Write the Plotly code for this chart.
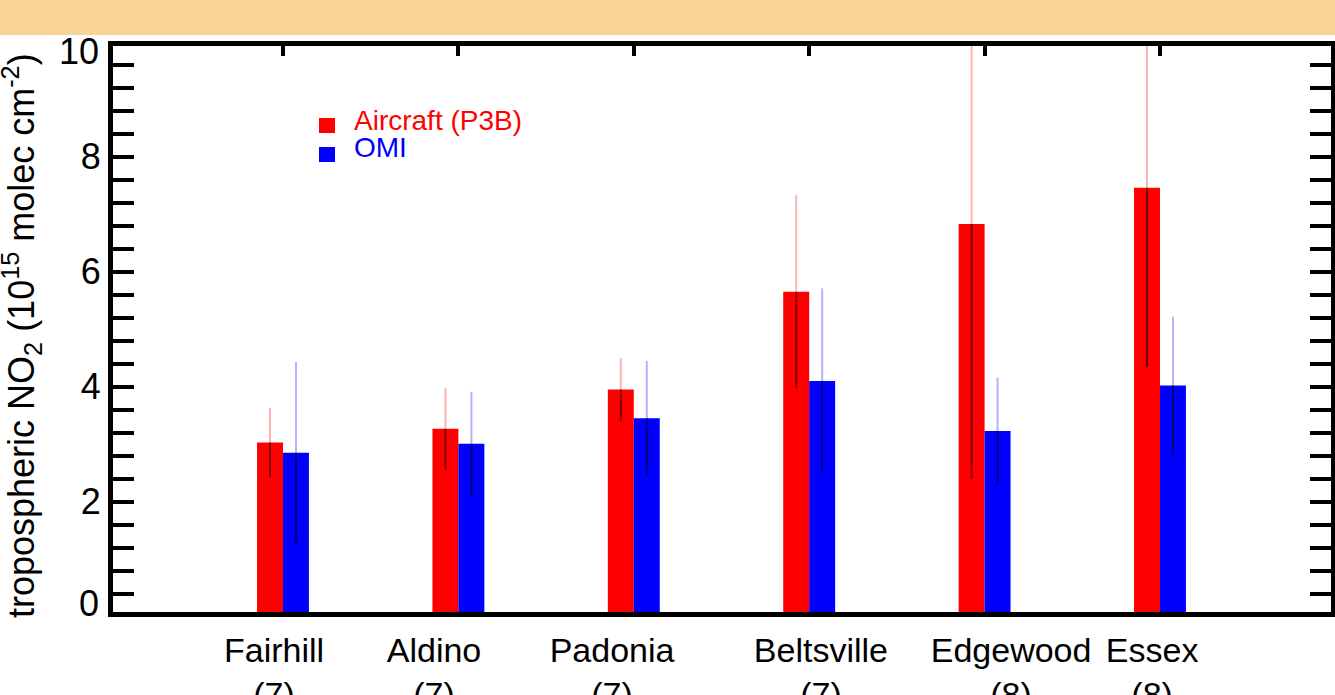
import plotly.graph_objects as go

# Site names and number of flight days per site
sites = ["Fairhill", "Aldino", "Padonia", "Beltsville", "Edgewood", "Essex"]
n_days = [7, 7, 7, 7, 8, 8]

# Tropospheric NO2 columns (1e15 molec cm-2): mean and standard deviation
aircraft_no2 = [3.03, 3.27, 3.95, 5.65, 6.83, 7.46]
aircraft_sd = [0.60, 0.71, 0.55, 1.68, 4.43, 3.12]
omi_no2 = [2.85, 3.01, 3.45, 4.10, 3.23, 4.02]
omi_sd = [1.58, 0.90, 1.00, 1.61, 0.93, 1.20]

y_tick_vals = [0, 2, 4, 6, 8, 10]

# ---- layout settings ----
W, H = 1335, 695
L, R, T, B = 113, 4, 46, 83
PW, PH = W - L - R, H - T - B
BAR_W = 0.148
site_x = [1, 2, 3, 4, 5, 6]
label_x = [0.949, 1.861, 2.876, 4.067, 5.151, 5.955]
X_RANGE = [0.0308, 6.975]
Y_RANGE = [0.082, 9.925]
FONT = "Liberation Sans, Arial, Helvetica, sans-serif"
RED, BLUE = "#FF0000", "#0000FF"


def px_x(p):
    return (p - L) / PW


def px_y(p):
    return (H - B - p) / PH


def whisker(xs, vals, errs, upper):
    wx, wy = [], []
    for x, v, e in zip(xs, vals, errs):
        wx += [x, x, None]
        wy += ([v, v + e, None] if upper else [v - e, v, None])
    return wx, wy


red_x = [x - BAR_W / 2 for x in site_x]
blue_x = [x + BAR_W / 2 for x in site_x]

fig = go.Figure()
fig.add_trace(go.Bar(x=red_x, y=aircraft_no2, width=BAR_W, marker=dict(color=RED, line=dict(width=0)),
                     name="Aircraft (P3B)"))
fig.add_trace(go.Bar(x=blue_x, y=omi_no2, width=BAR_W, marker=dict(color=BLUE, line=dict(width=0)),
                     name="OMI"))

# whiskers: faint above the bar, dark inside it
for xs, vals, errs, col in [(red_x, aircraft_no2, aircraft_sd, "rgba(255,0,0,0.3)"),
                            (blue_x, omi_no2, omi_sd, "rgba(0,0,255,0.3)")]:
    ux, uy = whisker(xs, vals, errs, True)
    lx, ly = whisker(xs, vals, errs, False)
    fig.add_trace(go.Scatter(x=ux, y=uy, mode="lines", line=dict(color=col, width=2), hoverinfo="skip"))
    fig.add_trace(go.Scatter(x=lx, y=ly, mode="lines", line=dict(color="rgba(0,0,0,0.5)", width=2),
                             hoverinfo="skip"))

# invisible trace so the top axis (site tick marks) is drawn
fig.add_trace(go.Scatter(x=site_x, y=[None] * len(site_x), xaxis="x2", mode="markers",
                         marker=dict(opacity=0), hoverinfo="skip"))

tick_labels = [f"{s}<br>({n})" for s, n in zip(sites, n_days)]
inner_ticks = [v for v in y_tick_vals if Y_RANGE[0] < v < Y_RANGE[1]]

fig.update_layout(
    width=W, height=H,
    margin=dict(l=L, r=R, t=T, b=B, pad=0, autoexpand=False),
    paper_bgcolor="white", plot_bgcolor="white",
    showlegend=False,
    barmode="overlay",
    font=dict(family=FONT, color="black"),
    xaxis=dict(range=X_RANGE, automargin=False, showline=True, linewidth=5, linecolor="black",
               mirror=True, showgrid=False, zeroline=False, ticks="", tickvals=label_x,
               ticktext=tick_labels, ticklabelstandoff=4, tickfont=dict(size=34, color="black")),
    xaxis2=dict(range=X_RANGE, automargin=False, overlaying="x", side="top", showline=False,
                showgrid=False, zeroline=False, ticks="inside", ticklen=10, tickwidth=4,
                tickcolor="black", tickvals=site_x, showticklabels=False),
    yaxis=dict(range=Y_RANGE, automargin=False, showline=True, linewidth=5, linecolor="black",
               mirror="allticks", showgrid=False, zeroline=False, ticks="inside", ticklen=21,
               tickwidth=4, tickcolor="black", tickvals=inner_ticks,
               tickfont=dict(size=36, color="black"),
               minor=dict(ticks="inside", dtick=0.4, tick0=0, ticklen=9, tickwidth=4,
                          tickcolor="black", showgrid=False)),
)

# header band
fig.add_shape(type="rect", xref="paper", yref="paper", x0=-0.2, x1=1.2, y0=px_y(35), y1=1.3,
              fillcolor="#F8D496", line=dict(width=0), layer="above")

# end tick labels kept inside the frame
for v, ypix in [(0, 603), (10, 52)]:
    fig.add_annotation(xref="paper", yref="paper", x=px_x(101), y=px_y(ypix), text=str(v),
                       showarrow=False, xanchor="right", yanchor="middle",
                       font=dict(size=36, color="black"))

# y-axis title
fig.add_annotation(xref="paper", yref="paper", x=px_x(21), y=px_y(336),
                   text="tropospheric NO<sub>2</sub> (10<sup>15</sup> molec cm<sup>-2</sup>)",
                   textangle=-90, showarrow=False, xanchor="center", yanchor="middle",
                   font=dict(size=36, color="black"))

# legend
for name, col, sq_top, txt_mid in [("Aircraft (P3B)", RED, 118, 120.5), ("OMI", BLUE, 147, 147.7)]:
    fig.add_shape(type="rect", xref="paper", yref="paper", x0=px_x(319), x1=px_x(335),
                  y0=px_y(sq_top + 15), y1=px_y(sq_top), fillcolor=col, line=dict(width=0))
    fig.add_annotation(xref="paper", yref="paper", x=px_x(352), y=px_y(txt_mid), text=name,
                       showarrow=False, xanchor="left", yanchor="middle",
                       font=dict(size=28, color=col))

fig.write_html("out.html")
